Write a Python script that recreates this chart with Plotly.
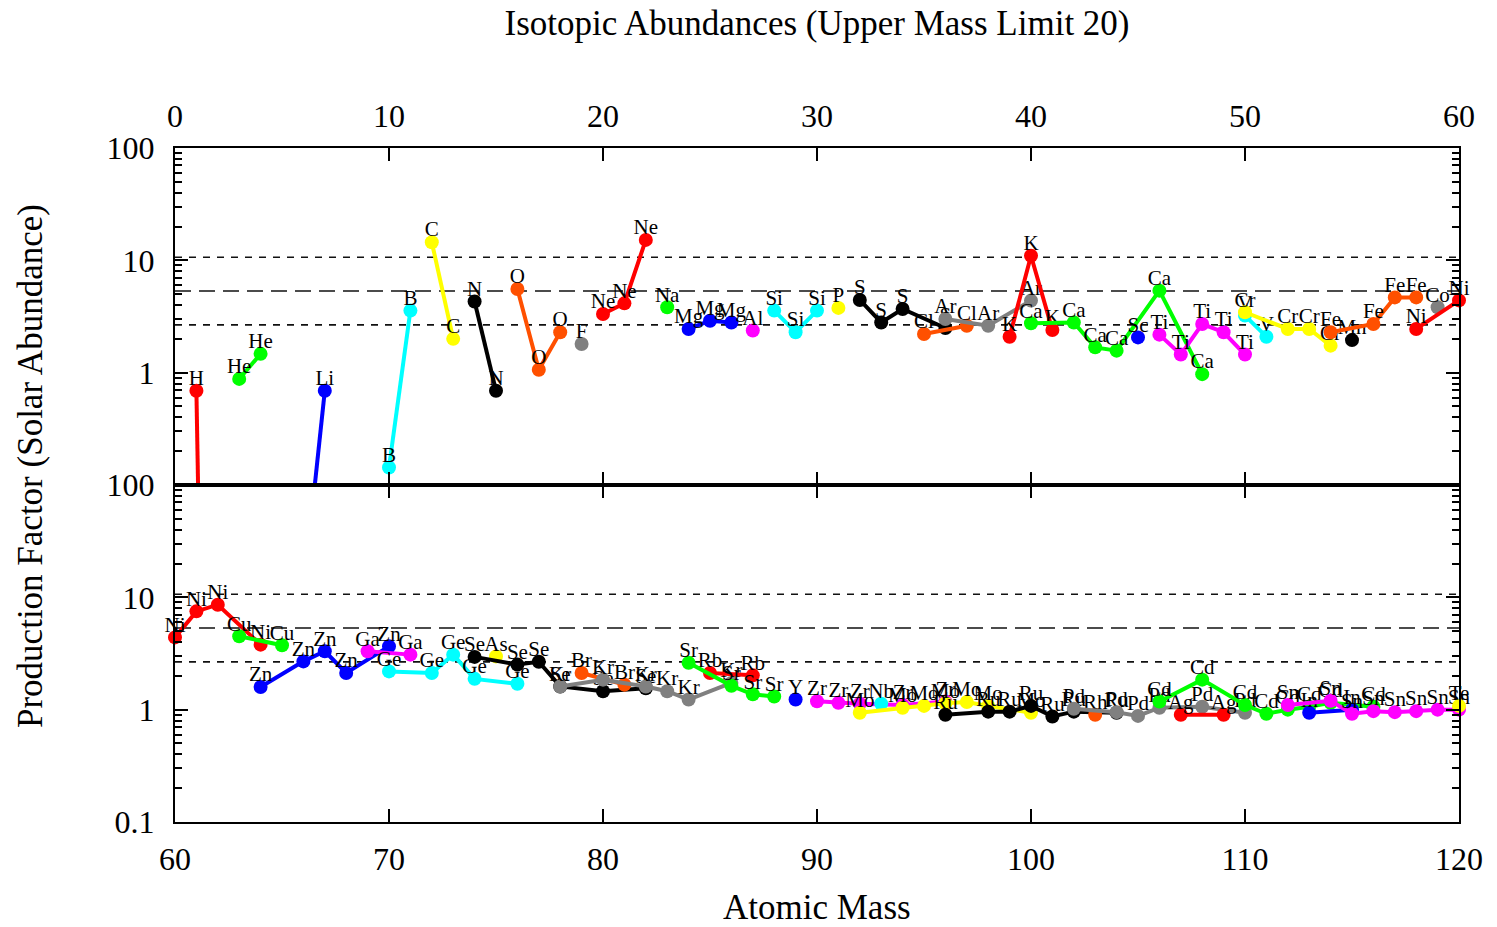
import plotly.graph_objects as go

# ---------------- data ----------------
ELEMENTS = ["H", "He", "Li", "Be", "B", "C", "N", "O", "F", "Ne", "Na", "Mg", "Al", "Si",
            "P", "S", "Cl", "Ar", "K", "Ca", "Sc", "Ti", "V", "Cr", "Mn", "Fe", "Co", "Ni",
            "Cu", "Zn", "Ga", "Ge", "As", "Se", "Br", "Kr", "Rb", "Sr", "Y", "Zr", "Nb", "Mo",
            "Ru", "Rh", "Pd", "Ag", "Cd", "In", "Sn", "Sb", "Te"]

ISOTOPE_MASSES = [
    [1, 2], [3, 4], [6, 7], [], [10, 11], [12, 13], [14, 15], [16, 17, 18], [19],
    [20, 21, 22], [23], [24, 25, 26], [27], [28, 29, 30], [31], [32, 33, 34, 36],
    [35, 37], [36, 38, 40], [39, 40, 41], [40, 42, 43, 44, 46, 48], [45],
    [46, 47, 48, 49, 50], [50, 51], [50, 52, 53, 54], [55], [54, 56, 57, 58], [59],
    [58, 60, 61, 62, 64], [63, 65], [64, 66, 67, 68, 70], [69, 71], [70, 72, 73, 74, 76],
    [75], [74, 76, 77, 78, 80, 82], [79, 81], [78, 80, 82, 83, 84, 86], [85, 87],
    [84, 86, 87, 88], [89], [90, 91, 92, 94, 96], [93], [92, 94, 95, 96, 97, 98, 100],
    [96, 98, 99, 100, 101, 102, 104], [103], [102, 104, 105, 106, 108, 110], [107, 109],
    [106, 108, 110, 111, 112, 113, 114, 116], [113, 115],
    [112, 114, 115, 116, 117, 118, 119, 120], [], [120],
]

PRODUCTION_FACTORS = [
    [0.69, 1e-11], [0.88, 1.47], [0.011, 0.69], [], [0.143, 3.57], [14.5, 2.0], [4.3, 0.69],
    [5.56, 1.06, 2.29], [1.80], [3.33, 4.14, 15.2], [3.82], [2.45, 2.90, 2.80], [2.37],
    [3.57, 2.29, 3.57], [3.77], [4.44, 2.80, 3.69, 2.5], [2.21, 2.62], [3.0, 2.62, 4.38],
    [2.09, 11.0, 2.40], [2.75, 2.80, 1.68, 1.57, 5.37, 0.97], [2.06],
    [2.18, 1.45, 2.71, 2.29, 1.45], [3.22, 2.09], [3.45, 2.45, 2.45, 1.74], [1.95],
    [2.29, 2.71, 4.68, 4.68], [3.82], [2.45, 4.4, 7.5, 8.6, 3.79], [4.5, 3.74],
    [1.59, 2.69, 3.31, 2.12, 3.66], [3.31, 3.09], [2.19, 2.12, 3.09, 1.88, 1.70], [2.98],
    [2.95, 2.52, 2.67, 1.61, 1.46, 1.55], [2.12, 1.67], [1.61, 1.85, 1.61, 1.46, 1.23, 1.73],
    [2.12, 2.02], [2.61, 1.63, 1.37, 1.31], [1.23], [1.19, 1.15, 1.13, 1.10, 1.18], [1.13],
    [0.94, 1.04, 1.08, 1.14, 1.17, 1.08, 0.94], [0.90, 0.96, 0.96, 1.08, 0.87, 0.96, 0.94],
    [0.90], [1.02, 0.95, 0.88, 1.04, 1.06, 0.94], [0.90, 0.90],
    [1.18, 1.85, 1.10, 0.92, 1.0, 1.06, 1.15, 1.06], [0.94, 1.0],
    [1.10, 1.20, 0.92, 0.97, 0.95, 0.97, 1.0, 1.0], [], [1.08],
]

COLOR_CYCLE = ["#ff0000", "#00ff00", "#0000ff", "#ff00ff", "#00ffff", "#ffff00",
               "#000000", "#ff5000", "#808080"]

REFERENCE_FACTOR = 5.33          # middle dashed line; outer lines at x2 and /2
TOP_MASS_RANGE = [0, 60]
BOTTOM_MASS_RANGE = [60, 120]
TOP_X_TICKS = [0, 10, 20, 30, 40, 50, 60]
BOTTOM_X_TICKS = [60, 70, 80, 90, 100, 110, 120]
TOP_Y_TICKS = [1, 10, 100]
BOTTOM_Y_TICKS = [0.1, 1, 10, 100]
Y_MINOR = [m * 10 ** e for e in (-1, 0, 1) for m in range(2, 10)]
LABEL_LIFT = 10 ** (11 / 112.3)   # element labels sit ~11 px above their point

SERIF = "Liberation Serif"

fig = go.Figure()

panels = [("x", "y", TOP_MASS_RANGE), ("x2", "y2", BOTTOM_MASS_RANGE)]

# reference lines
for xa, ya, rng in panels:
    for val, dash in [(REFERENCE_FACTOR * 2, "7px,7px"), (REFERENCE_FACTOR, "16px,8px"),
                      (REFERENCE_FACTOR / 2, "7px,7px")]:
        fig.add_trace(go.Scatter(x=rng, y=[val, val], xaxis=xa, yaxis=ya, mode="lines",
                                 line=dict(color="#111111", width=1.6, dash=dash),
                                 hoverinfo="skip", showlegend=False))

for i, (el, ms, vs) in enumerate(zip(ELEMENTS, ISOTOPE_MASSES, PRODUCTION_FACTORS)):
    if not ms:
        continue
    color = COLOR_CYCLE[i % len(COLOR_CYCLE)]
    for xa, ya, (lo, hi) in panels:
        if not any(lo <= m <= hi for m in ms):
            continue
        if len(ms) > 1:
            fig.add_trace(go.Scatter(x=ms, y=vs, xaxis=xa, yaxis=ya, mode="lines",
                                     line=dict(color=color, width=4),
                                     hoverinfo="skip", showlegend=False))
        px = [m for m, v in zip(ms, vs) if lo <= m <= hi and 0.1 <= v <= 100]
        py = [v for m, v in zip(ms, vs) if lo <= m <= hi and 0.1 <= v <= 100]
        fig.add_trace(go.Scatter(x=px, y=py, xaxis=xa, yaxis=ya, mode="markers",
                                 marker=dict(color=color, size=14),
                                 cliponaxis=False, name=el, showlegend=False))
        fig.add_trace(go.Scatter(x=px, y=[v * LABEL_LIFT for v in py], xaxis=xa, yaxis=ya,
                                 mode="text", text=[el] * len(px),
                                 textposition="middle center",
                                 textfont=dict(family=SERIF, size=21, color="black"),
                                 cliponaxis=False, hoverinfo="skip", showlegend=False))

axis_common = dict(showline=True, linecolor="black", linewidth=2, mirror="ticks",
                   ticks="inside", ticklen=13, tickwidth=2, tickcolor="black",
                   showgrid=False, zeroline=False,
                   tickfont=dict(family=SERIF, size=32, color="black"))

fig.update_layout(
    width=1497, height=927,
    margin=dict(l=175, r=38, t=148, b=105),
    paper_bgcolor="white", plot_bgcolor="white",
    showlegend=False,
    title=dict(text="Isotopic Abundances (Upper Mass Limit 20)", x=0.5, xref="paper",
               y=1 - 23 / 927, yref="container", xanchor="center", yanchor="middle",
               font=dict(family=SERIF, size=35, color="black")),
    xaxis=dict(range=TOP_MASS_RANGE, side="top", anchor="y", tickvals=TOP_X_TICKS,
               ticklabelstandoff=6, **axis_common),
    yaxis=dict(type="log", range=[-1, 2], domain=[0.5, 1], anchor="x",
               tickvals=TOP_Y_TICKS, ticktext=[str(v) for v in TOP_Y_TICKS],
               ticklabelstandoff=12,
               minor=dict(tickvals=Y_MINOR, ticks="inside", ticklen=7, tickwidth=1.5,
                          tickcolor="black", showgrid=False),
               **axis_common),
    xaxis2=dict(range=BOTTOM_MASS_RANGE, side="bottom", anchor="y2",
                tickvals=BOTTOM_X_TICKS, ticklabelstandoff=8, **axis_common),
    yaxis2=dict(type="log", range=[-1, 2], domain=[0, 0.5], anchor="x2",
                tickvals=BOTTOM_Y_TICKS, ticktext=["0.1", "1", "10", "100"],
                ticklabelstandoff=12,
                minor=dict(tickvals=Y_MINOR, ticks="inside", ticklen=7, tickwidth=1.5,
                           tickcolor="black", showgrid=False),
                **axis_common),
    annotations=[
        dict(text="Production Factor (Solar Abundance)", xref="paper", yref="paper",
             x=(30 - 175) / 1284, y=(822 - 466) / 674, xanchor="center", yanchor="middle",
             textangle=-90, showarrow=False, font=dict(family=SERIF, size=35, color="black")),
        dict(text="Atomic Mass", xref="paper", yref="paper",
             x=0.5, y=(822 - 907) / 674, xanchor="center", yanchor="middle",
             showarrow=False, font=dict(family=SERIF, size=35, color="black")),
    ],
)

fig.write_html("out.html")
